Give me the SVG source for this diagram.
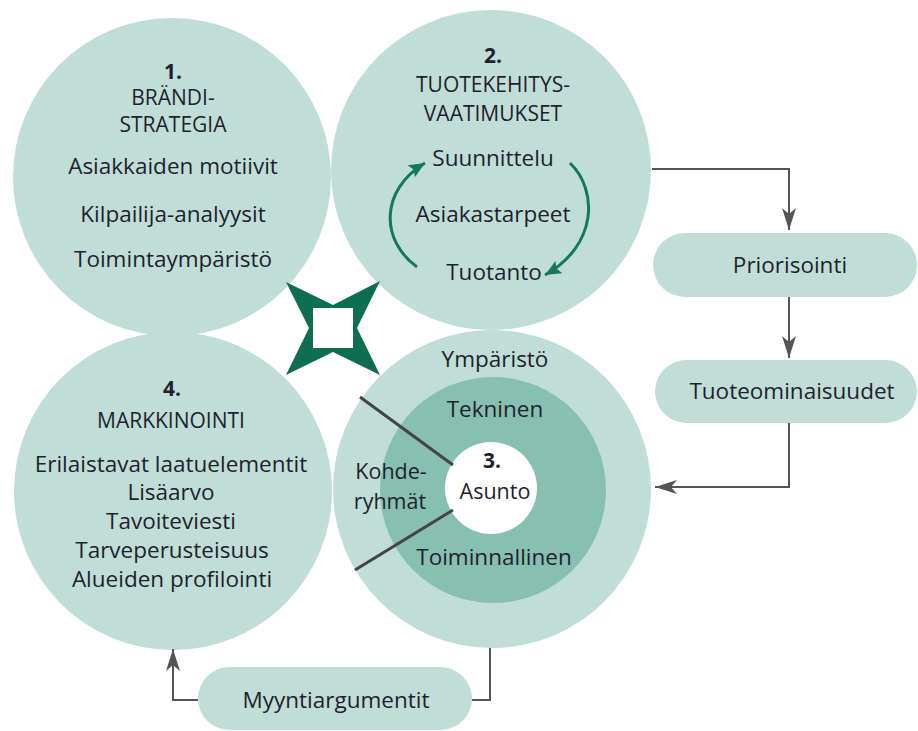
<svg xmlns="http://www.w3.org/2000/svg" width="918" height="731" viewBox="0 0 918 731">
  <style>
    .disc { fill: #c1ddd7; }
    .ring { fill: #87bfb1; }
    .hole { fill: #ffffff; }
    .pill { fill: #c1ddd7; }
    text { font-family: "Open Sans", "Noto Sans", sans-serif; font-size: 22.5px; fill: #1f1f2d; text-anchor: middle; }
    .head { font-size: 21px; }
    .num { font-weight: bold; font-size: 21px; }
    .tight { font-size: 21.5px; }
    .flow { fill: none; stroke: #555555; stroke-width: 2; }
    .cycle { fill: none; stroke: #17775a; stroke-width: 3; }
    .spoke { stroke: #444444; stroke-width: 3; }
  </style>
  <defs>
    <marker id="grayHead" viewBox="0 -8 24 16" refX="22" refY="0" markerWidth="24" markerHeight="16" markerUnits="userSpaceOnUse" orient="auto">
      <path d="M0,-7 L22,0 L0,7 L6,0 z" fill="#555555"/>
    </marker>
    <marker id="greenHead" viewBox="0 -8 18 16" refX="16" refY="0" markerWidth="18" markerHeight="16" markerUnits="userSpaceOnUse" orient="auto">
      <path d="M0,-7 L16,0 L0,7 L3,0 z" fill="#17775a"/>
    </marker>
  </defs>

  <rect width="918" height="731" fill="#ffffff"/>

  <!-- 1. Brand strategy -->
  <g id="node-brandistrategia">
    <circle class="disc" cx="172" cy="177" r="159"/>
    <text x="173" y="79" class="num">1.</text>
    <text x="173" y="105" class="head">BRÄNDI-</text>
    <text x="173" y="132" class="head">STRATEGIA</text>
    <text x="173" y="174">Asiakkaiden motiivit</text>
    <text x="173" y="222">Kilpailija-analyysit</text>
    <text x="173" y="267">Toimintaympäristö</text>
  </g>

  <!-- 2. Product development requirements -->
  <g id="node-tuotekehitys">
    <circle class="disc" cx="491" cy="170" r="160"/>
    <text x="493" y="63" class="num">2.</text>
    <text x="493" y="92" class="head">TUOTEKEHITYS-</text>
    <text x="493" y="121" class="head">VAATIMUKSET</text>
    <text x="493" y="166">Suunnittelu</text>
    <text x="493" y="222">Asiakastarpeet</text>
    <text x="494" y="280">Tuotanto</text>
    <path class="cycle" d="M417,267 C380,240 380,190 425,163" marker-end="url(#greenHead)"/>
    <path class="cycle" d="M570,163 C598,190 598,245 545,275" marker-end="url(#greenHead)"/>
  </g>

  <!-- 4. Marketing -->
  <g id="node-markkinointi">
    <circle class="disc" cx="173" cy="491" r="159"/>
    <text x="172" y="396" class="num">4.</text>
    <text x="171" y="428" class="head">MARKKINOINTI</text>
    <text x="171" y="472">Erilaistavat laatuelementit</text>
    <text x="171" y="500">Lisäarvo</text>
    <text x="171" y="529">Tavoiteviesti</text>
    <text x="172" y="558">Tarveperusteisuus</text>
    <text x="172" y="587">Alueiden profilointi</text>
  </g>

  <!-- 3. Dwelling with its layers -->
  <g id="node-asunto">
    <circle class="disc" cx="492" cy="489" r="159"/>
    <circle class="ring" cx="493" cy="490" r="113"/>
    <circle class="hole" cx="491" cy="488" r="46"/>
    <line class="spoke" x1="360" y1="397" x2="453" y2="465"/>
    <line class="spoke" x1="453" y1="510" x2="355" y2="570"/>
    <text x="495" y="367">Ympäristö</text>
    <text x="495" y="417">Tekninen</text>
    <text x="391" y="479" class="tight">Kohde-</text>
    <text x="390" y="509" class="tight">ryhmät</text>
    <text x="492" y="468" class="num">3.</text>
    <text x="495" y="499" class="tight">Asunto</text>
    <text x="494" y="565">Toiminnallinen</text>
  </g>

  <!-- Four-pointed star between the circles -->
  <g id="node-star">
    <polygon points="286,282 333,305 380,281 357,328 380,375 333,352 286,375 309,328" fill="#0e6e52"/>
    <rect x="313" y="308" width="40" height="40" fill="#ffffff"/>
  </g>

  <g id="node-priorisointi">
    <rect class="pill" x="653" y="233" width="264" height="64" rx="32"/>
    <text x="790" y="273">Priorisointi</text>
  </g>

  <g id="node-tuoteominaisuudet">
    <rect class="pill" x="655" y="360" width="262" height="63" rx="31.5"/>
    <text x="792" y="399">Tuoteominaisuudet</text>
  </g>

  <g id="node-myyntiargumentit">
    <rect class="pill" x="198" y="667" width="274" height="63" rx="31.5"/>
    <text x="336" y="708">Myyntiargumentit</text>
  </g>

  <g id="connectors">
    <path class="flow" d="M652,169 H789 V230" marker-end="url(#grayHead)"/>
    <path class="flow" d="M789,297 V358" marker-end="url(#grayHead)"/>
    <path class="flow" d="M789,423 V487 H655" marker-end="url(#grayHead)"/>
    <path class="flow" d="M490,648 V700 H472"/>
    <path class="flow" d="M198,700 H173 V649" marker-end="url(#grayHead)"/>
  </g>
</svg>
